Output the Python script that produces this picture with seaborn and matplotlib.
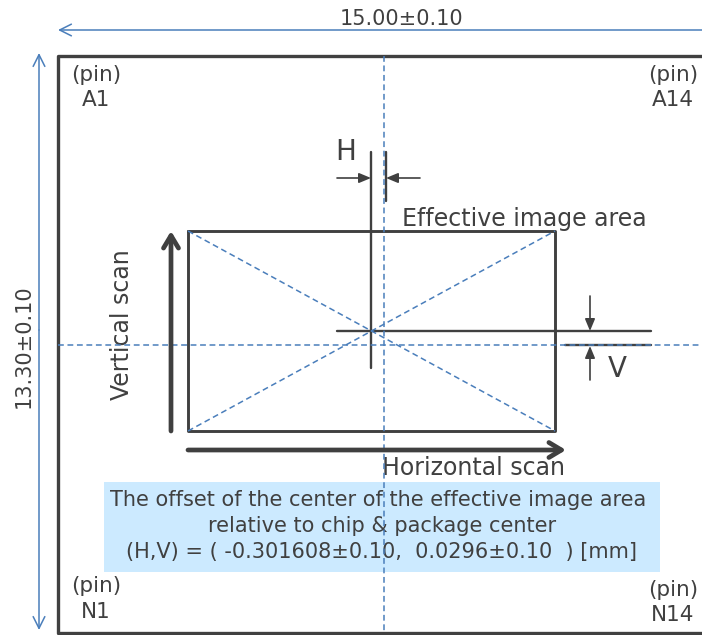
import matplotlib
matplotlib.use('Agg')
import matplotlib.pyplot as plt
import pandas as pd
import seaborn as sns
from matplotlib.patches import Rectangle

sns.set_theme(style='white')
plt.rcParams['font.family'] = ['DejaVu Sans']

DARK = '#404040'
BLUE = '#4a7ebb'
BOX = '#cceaff'

# diagram positions, in reference pixels
outline_x = [702, 58, 58, 702]
outline_y = [56, 56, 633, 633]
area_x = [188, 555, 555, 188, 188]
area_y = [231, 231, 431, 431, 231]
center_v_x = [384, 384]
center_v_y = [56, 633]
center_h_x = [58, 702]
center_h_y = [345, 345]
diag1_x = [188, 555]
diag1_y = [231, 431]
diag2_x = [188, 555]
diag2_y = [431, 231]
offset_lines = [
    ([371, 371], [152, 368]),
    ([386, 386], [152, 201]),
    ([337, 651], [331, 331]),
    ([565, 651], [345, 345]),
]
dim_arrows = [
    ((702, 30), (58, 30)),
    ((39, 330), (39, 53)),
    ((39, 330), (39, 630)),
]
small_arrows = [
    ((337, 178), (371, 178)),
    ((420, 178), (386, 178)),
    ((590, 296), (590, 331)),
    ((590, 380), (590, 346)),
]
scan_arrows = [
    ((171, 431), (171, 231)),
    ((188, 450), (566, 450)),
]
labels = [
    (402, 19, '15.00±0.10', 15, 0),
    (24, 346, '13.30±0.10', 15, 90),
    (96, 75, '(pin)', 15.5, 0),
    (96, 100, 'A1', 15.5, 0),
    (673, 75, '(pin)', 15.5, 0),
    (673, 100, 'A14', 15.5, 0),
    (96, 586, '(pin)', 15.5, 0),
    (96, 612, 'N1', 15.5, 0),
    (673, 590, '(pin)', 15.5, 0),
    (673, 615, 'N14', 15.5, 0),
    (346, 152, 'H', 20, 0),
    (617, 369, 'V', 20, 0),
    (524, 219, 'Effective image area', 17, 0),
    (122, 325, 'Vertical scan', 17, 90),
    (473, 468, 'Horizontal scan', 17, 0),
    (378, 500, 'The offset of the center of the effective image area', 15, 0),
    (382, 526, 'relative to chip & package center', 15, 0),
    (382, 552, '(H,V) = ( -0.301608±0.10,  0.0296±0.10  ) [mm]', 15, 0),
]


def draw_segments(ax, segments, color, linewidth, linestyle='-', zorder=3):
    rows = []
    for seg, (xs, ys) in enumerate(segments):
        for x, y in zip(xs, ys):
            rows.append({'seg': seg, 'x': x, 'y': y})
    sns.lineplot(
        data=pd.DataFrame(rows), x='x', y='y', units='seg', estimator=None, sort=False,
        color=color, linewidth=linewidth, linestyle=linestyle, zorder=zorder, ax=ax, legend=False,
    )


def main():
    fig, ax = plt.subplots(figsize=(7.02, 6.35), dpi=100)
    ax.set_position([0, 0, 1, 1])

    ax.add_patch(Rectangle((104, 482), 556, 90, facecolor=BOX, edgecolor='none', zorder=1))

    draw_segments(ax, [(outline_x, outline_y)], DARK, 2.4)
    draw_segments(ax, [(area_x, area_y)], DARK, 2.1)
    draw_segments(ax, offset_lines, DARK, 1.7)
    draw_segments(
        ax,
        [(center_v_x, center_v_y), (center_h_x, center_h_y), (diag1_x, diag1_y), (diag2_x, diag2_y)],
        BLUE, 1.1, linestyle=(0, (3.8, 2.4)), zorder=4,
    )

    for start, end in dim_arrows:
        ax.annotate('', xy=end, xytext=start, zorder=5, arrowprops=dict(
            arrowstyle='->,head_length=0.7,head_width=0.35', color=BLUE, lw=1.1, shrinkA=0, shrinkB=0))
    for start, end in small_arrows:
        ax.annotate('', xy=end, xytext=start, zorder=5, arrowprops=dict(
            arrowstyle='-|>,head_length=0.6,head_width=0.25', color=DARK, lw=1.2, shrinkA=0, shrinkB=0))
    for start, end in scan_arrows:
        ax.annotate('', xy=end, xytext=start, zorder=5, arrowprops=dict(
            arrowstyle='->,head_length=0.75,head_width=0.45', color=DARK, lw=3.4, shrinkA=0, shrinkB=0))

    for x, y, text, size, rotation in labels:
        ax.text(x, y, text, fontsize=size, rotation=rotation, color=DARK,
                ha='center', va='center', zorder=3)

    ax.set_xlim(0, 702)
    ax.set_ylim(635, 0)
    ax.axis('off')
    fig.savefig('out.png', dpi=100, facecolor='white')


if __name__ == '__main__':
    main()
